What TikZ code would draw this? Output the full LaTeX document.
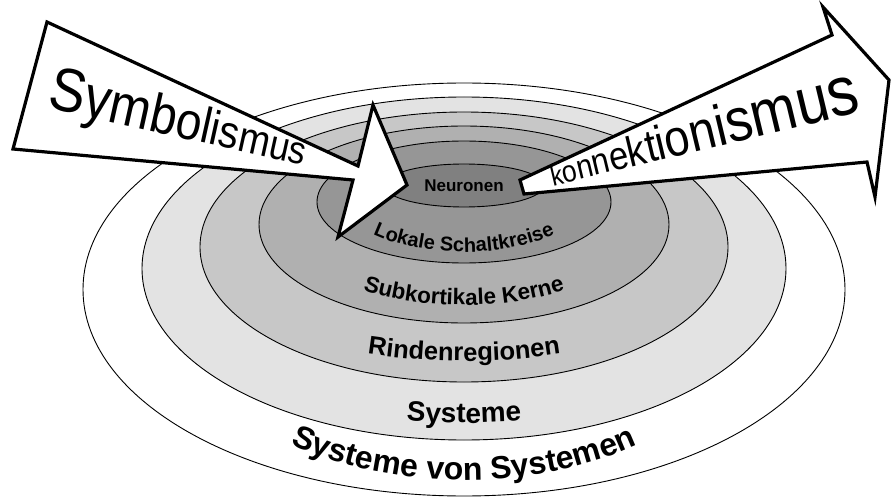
\documentclass[tikz,border=0pt]{standalone}
\usepackage{fontspec}
\setmainfont{Liberation Sans}
\usetikzlibrary{decorations.text}

\newcommand\ringfont[1]{\fontsize{#1}{#1}\selectfont\bfseries}
\newcommand\glyphfont[1]{\fontsize{#1}{#1}\selectfont}

\tikzset{
  ring/.style={draw=black, line width=0.9pt},
  bigarrow/.style={draw=black, fill=white, line width=3.2pt, line join=miter},
  glyph/.style={anchor=base west, inner sep=0pt, outer sep=0pt, transform shape, yscale=1.14},
  ringtext/.style 2 args={decorate, decoration={text along path, text align=center,
      text={|\ringfont{#1}|#2}}},
}

\begin{document}
\begin{tikzpicture}[x=1pt, y=-1pt]
\useasboundingbox (0,0) rectangle (892,500);
\fill[white] (0,0) rectangle (892,500);

% nested levels, outermost first
\filldraw[ring, fill=white]        (464,289.5) ellipse [x radius=381, y radius=206.5];
\filldraw[ring, fill=black!11]     (464,268.5) ellipse [x radius=322, y radius=171.5];
\filldraw[ring, fill=black!22]     (464,247)   ellipse [x radius=264, y radius=135];
\filldraw[ring, fill=black!31]     (464,224.5) ellipse [x radius=205, y radius=98.5];
\filldraw[ring, fill=black!41]     (464,202)   ellipse [x radius=147, y radius=61];
\filldraw[ring, fill=black!50]     (464,185.5) ellipse [x radius=80,  y radius=21.5];

% level labels, bent along the lower rims
\path[ringtext={32}{Systeme von Systemen}]
  (464,300) ++(150:291 and 180) arc[start angle=150, end angle=30, x radius=291, y radius=180];
\path[ringtext={28}{Systeme}]
  (464,273) ++(150:330 and 150) arc[start angle=150, end angle=30, x radius=330, y radius=150];
\path[ringtext={25.5}{Rindenregionen}]
  (464,251) ++(155:271 and 110) arc[start angle=155, end angle=25, x radius=271, y radius=110];
\path[ringtext={22.5}{Subkortikale Kerne}]
  (464,225) ++(160:173 and 80) arc[start angle=160, end angle=20, x radius=173, y radius=80];
\path[ringtext={20}{Lokale Schaltkreise}]
  (464,192) ++(165:128 and 60) arc[start angle=165, end angle=15, x radius=128, y radius=60];
\node[anchor=base, inner sep=0pt, font=\ringfont{17}] (neuronen) at (464,191) {Neuronen};

% top-down arrow
\draw[bigarrow] (47,22) -- (358,166) -- (373,105) -- (407,185) -- (338,237)
  -- (353,180) -- (13,149) -- cycle;
% bottom-up arrow
\draw[bigarrow] (520,180) -- (832,35) -- (823,7) -- (889,80) -- (875,197)
  -- (867,162) -- (524,194) -- cycle;

% arrow captions: each letter sits on the end of the previous one,
% shrinking or growing along the shaft
\begin{scope}[shift={(46,108)}, rotate=-12.5]
  \node[glyph, font=\glyphfont{54}] (sym1) at (0,0) {S};
  \foreach \ch [count=\i from 2] in {y,m,b,o,l,i,s,m,u,s}{
    \pgfmathtruncatemacro\j{\i-1}
    \pgfmathsetmacro\fs{54-(\i-1)*2.0}
    \node[glyph, font=\glyphfont{\fs}] (sym\i) at (sym\j.base east) {\ch};
  }
\end{scope}
\begin{scope}[shift={(553,186)}, rotate=13.5]
  \node[glyph, font=\glyphfont{24}] (kon1) at (0,0) {k};
  \foreach \ch [count=\i from 2] in {o,n,n,e,k,t,i,o,n,i,s,m,u,s}{
    \pgfmathtruncatemacro\j{\i-1}
    \pgfmathsetmacro\fs{24+(\i-1)*2.65}
    \node[glyph, font=\glyphfont{\fs}] (kon\i) at (kon\j.base east) {\ch};
  }
\end{scope}
\end{tikzpicture}
\end{document}
